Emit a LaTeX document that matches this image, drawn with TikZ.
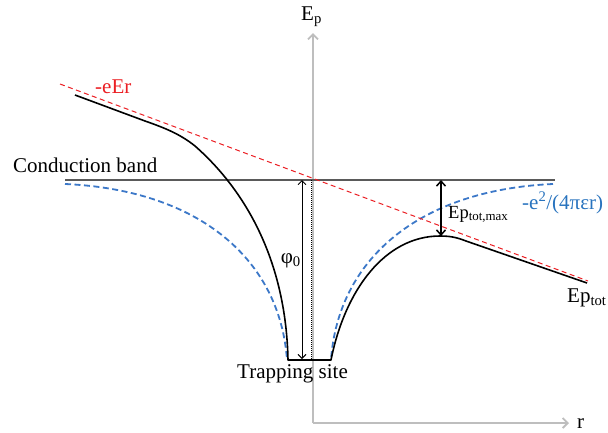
\documentclass[tikz,border=0pt]{standalone}
\usepackage{fontspec}
\setmainfont{Liberation Serif}
\usetikzlibrary{arrows.meta}
\definecolor{axgray}{RGB}{190,190,190}
\definecolor{cbgray}{RGB}{90,90,90}
\definecolor{myred}{RGB}{235,30,35}
\definecolor{myblue}{RGB}{60,120,200}
\definecolor{lblblue}{RGB}{40,115,190}
\tikzset{
  lbl/.style={inner sep=0pt, font=\fontsize{21}{25}\selectfont, anchor=base west},
  smalllbl/.style={inner sep=0pt, font=\fontsize{18.5}{22}\selectfont, anchor=base west},
  axis/.style={draw=axgray, line width=1.8pt, -{Straight Barb[length=5pt,width=10pt]}},
  curve/.style={draw=black, line width=1.6pt},
  reddash/.style={draw=myred, line width=1pt, dash pattern=on 5pt off 3.5pt},
  bluedash/.style={draw=myblue, line width=1.8pt, dash pattern=on 6pt off 3.5pt},
  thinarrow/.style={draw=black, line width=0.9pt, {Straight Barb[length=4pt,width=8pt]}-{Straight Barb[length=4pt,width=8pt]}},
  thickarrow/.style={draw=black, line width=1.5pt, {Straight Barb[length=5pt,width=9pt]}-{Straight Barb[length=5pt,width=9pt]}}
}
\begin{document}
\begin{tikzpicture}[x=1pt,y=-1pt]
\useasboundingbox (0,0) rectangle (608,432);
% coordinates
\coordinate (o) at (313,423);
\coordinate (ytop) at (313,33);
\coordinate (xend) at (569,423);
\coordinate (cbL) at (65,180);
\coordinate (cbR) at (555,180);
\coordinate (rdA) at (60,84);
\coordinate (rdB) at (588,281);
\coordinate (dotT) at (311,180);
\coordinate (dotB) at (311,360);
\coordinate (phT) at (302,180);
\coordinate (phB) at (302,359);
\coordinate (emT) at (441,180);
\coordinate (emB) at (441,236);
% axes
\draw[axis] (o) -- (ytop);
\draw[axis] (o) -- (xend);
% conduction band
\draw[draw=cbgray, line width=1.5pt] (cbL) -- (cbR);
% dotted
\draw[black, line width=0.6pt, dash pattern=on 1pt off 1pt] (dotT) -- (dotB);
% blue dashed
\draw[bluedash] (65,184) .. controls (200,190) and (280,260) .. (287,360);
\draw[bluedash] (553,184) .. controls (418,190) and (338,260) .. (331,360);
% red dashed
\draw[reddash] (rdA) -- (rdB);
% black curve
\draw[curve, line join=round] (75,95) -- (145,121) .. controls (165,128) and (180,134) .. (195,146)
  .. controls (245,190) and (286,260) .. (288,360) -- (331,360)
  .. controls (345,290) and (385,236) .. (440,236)
  .. controls (452,236) and (458,238) .. (466,241) -- (587,283);
% arrows
\draw[thinarrow] (phT) -- (phB);
\draw[thickarrow] (emT) -- (emB);
% labels
\node[lbl] (ep) at (301,20) {E\textsubscript{p}};
\node[lbl] (r) at (577,428) {r};
\node[lbl, text=myred] (eer) at (95,93) {-eEr};
\node[lbl] (cb) at (13,172) {Conduction band};
\node[lbl, anchor=base east] (phi) at (301,263) {φ\textsubscript{0}};
\node[lbl] (ts) at (237,378) {Trapping site};
\node[smalllbl] (epmax) at (448,218) {Ep\textsubscript{tot,max}};
\node[lbl] (eptot) at (567,302) {Ep\textsubscript{tot}};
\node[lbl, text=lblblue] (coul) at (522,209) {-e\textsuperscript{2}/(4πεr)};
\end{tikzpicture}
\end{document}
